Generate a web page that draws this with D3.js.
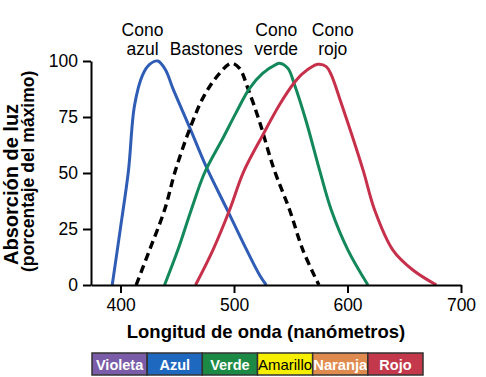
<!DOCTYPE html>
<html>
<head>
<meta charset="utf-8">
<script src="https://cdn.jsdelivr.net/npm/d3@7"></script>
<style>
  body { margin: 0; background: #fff; }
  text { font-family: "Liberation Sans", Arial, Helvetica, sans-serif; }
</style>
</head>
<body>
<svg width="486" height="377"></svg>
<script>
// absorption curves, [wavelength nm, % of max]
var conoAzul = [[392.7,0],[399.7,24.5],[407,51],[412.3,80],[419.4,93.7],[425.6,98.5],[432.9,100],
  [439.7,96],[446.1,87.8],[460.8,70.5],[475.8,52.5],[494.6,33],[510.8,16],[522.5,4.5],[528.4,0]];
var bastones = [[413.8,0],[425.6,15.6],[438.8,33.5],[448.5,51.3],[462.3,71.4],[474,84.8],[487.3,94.5],
  [497.6,99],[504.9,96.7],[512.2,87.8],[522.5,72.9],[535,52],[549,33.5],[560.7,15.6],[574.8,0]];
var conoVerde = [[438.8,0],[450.5,15.6],[462.3,33.5],[474,50],[490.2,65.5],[501.4,76.5],[513.7,87.8],
  [525.2,94.5],[537.2,98.5],[540.1,99],[547.5,96.7],[553.4,89.3],[563.7,72.9],[575.4,51.3],
  [585.7,33.5],[600.4,15.6],[618,0]];
var conoRojo = [[466.1,0],[481.4,15.6],[496.1,33.5],[508.4,50.5],[525.4,67],[540.1,80.5],[553.4,90.5],
  [560.7,94.5],[573.9,98.5],[581.3,97.5],[585.7,93.8],[593,83.4],[604.8,65.5],[614.2,50.5],
  [623.9,33.5],[640,15.6],[657.6,6.7],[678.3,0]];

var xTicks = [400, 500, 600, 700];
var yTicks = [0, 25, 50, 75, 100];

var bandNames = ["Violeta", "Azul", "Verde", "Amarillo", "Naranja", "Rojo"];
var bandColors = ["#7b5ca8", "#1f68c0", "#1c8a44", "#f7ef00", "#df8a4e", "#c3384a"];

var curveLabels = [
  { lines: ["Cono", "azul"], nm: 419.4 },
  { lines: ["Bastones"], nm: 475.5 },
  { lines: ["Cono", "verde"], nm: 537.2 },
  { lines: ["Cono", "rojo"], nm: 587 }
];

var svg = d3.select("svg");

var x = d3.scaleLinear().domain([374, 700]).range([91, 461]);
var y = d3.scaleLinear().domain([0, 100]).range([285, 61]);

var line = d3.line()
    .x(function(d) { return x(d[0]); })
    .y(function(d) { return y(d[1]); })
    .curve(d3.curveCatmullRom.alpha(0.5));

var series = [
  { data: conoAzul, color: "#2f5db5", dash: null },
  { data: bastones, color: "#000", dash: "8,5" },
  { data: conoVerde, color: "#13885a", dash: null },
  { data: conoRojo, color: "#c7304b", dash: null }
];

svg.append("g")
  .selectAll("path")
  .data(series)
  .enter().append("path")
    .attr("d", function(d) { return line(d.data); })
    .attr("fill", "none")
    .attr("stroke", function(d) { return d.color; })
    .attr("stroke-width", function(d) { return d.dash ? 3.4 : 3; })
    .attr("stroke-dasharray", function(d) { return d.dash; });

// axes
svg.append("g")
    .attr("transform", "translate(0," + y(0) + ")")
    .call(d3.axisBottom(x).tickValues(xTicks).tickSize(8).tickSizeOuter(0).tickPadding(6));

svg.append("g")
    .attr("transform", "translate(" + x(374) + ",0)")
    .call(d3.axisLeft(y).tickValues(yTicks).tickSize(8).tickSizeOuter(0).tickPadding(5));

svg.selectAll(".domain, .tick line")
    .attr("stroke", "#000")
    .attr("stroke-width", 2);
svg.selectAll(".tick text")
    .attr("font-size", 17.5)
    .attr("fill", "#000")
    .style("font-family", "'Liberation Sans', Arial, sans-serif");

// curve labels
var lbl = svg.append("g").selectAll("text")
  .data(curveLabels)
  .enter().append("text")
    .attr("text-anchor", "middle")
    .attr("font-size", 17.5)
    .attr("x", function(d) { return x(d.nm); });

lbl.selectAll("tspan")
  .data(function(d) { return d.lines.length == 1 ? [null, d.lines[0]] : d.lines; })
  .enter().append("tspan")
    .attr("x", function() { return d3.select(this.parentNode).attr("x"); })
    .attr("y", function(d, i) { return 36 + i * 19; })
    .text(function(d) { return d; });

// axis titles
svg.append("text")
    .attr("x", 266)
    .attr("y", 338)
    .attr("text-anchor", "middle")
    .attr("font-size", 18.5)
    .attr("font-weight", "bold")
    .text("Longitud de onda (nanómetros)");

var yTitle = svg.append("text")
    .attr("transform", "translate(0,265) rotate(-90)")
    .attr("font-weight", "bold");
yTitle.append("tspan").attr("x", 0).attr("y", 18).attr("font-size", 20).text("Absorción de luz");
yTitle.append("tspan").attr("x", -7).attr("y", 33.5).attr("font-size", 17.5).text("(porcentaje del máximo)");

// color band
var band = d3.scaleBand().domain(bandNames).range([92, 423]);

var cells = svg.append("g").selectAll("g")
  .data(bandNames)
  .enter().append("g");

cells.append("rect")
    .attr("x", function(d) { return band(d); })
    .attr("y", 353)
    .attr("width", band.bandwidth())
    .attr("height", 22)
    .attr("fill", function(d, i) { return bandColors[i]; })
    .attr("stroke", "#333")
    .attr("stroke-width", 1.5);

cells.append("text")
    .attr("x", function(d) { return band(d) + band.bandwidth() / 2; })
    .attr("y", 369.5)
    .attr("text-anchor", "middle")
    .attr("font-size", 14.5)
    .attr("font-weight", function(d) { return d == "Amarillo" ? "normal" : "bold"; })
    .attr("fill", function(d) { return d == "Amarillo" ? "#000" : "#fff"; })
    .attr("textLength", function(d) { return d == "Amarillo" || d == "Naranja" ? 54 : null; })
    .attr("lengthAdjust", "spacingAndGlyphs")
    .text(function(d) { return d; });
</script>
</body>
</html>
